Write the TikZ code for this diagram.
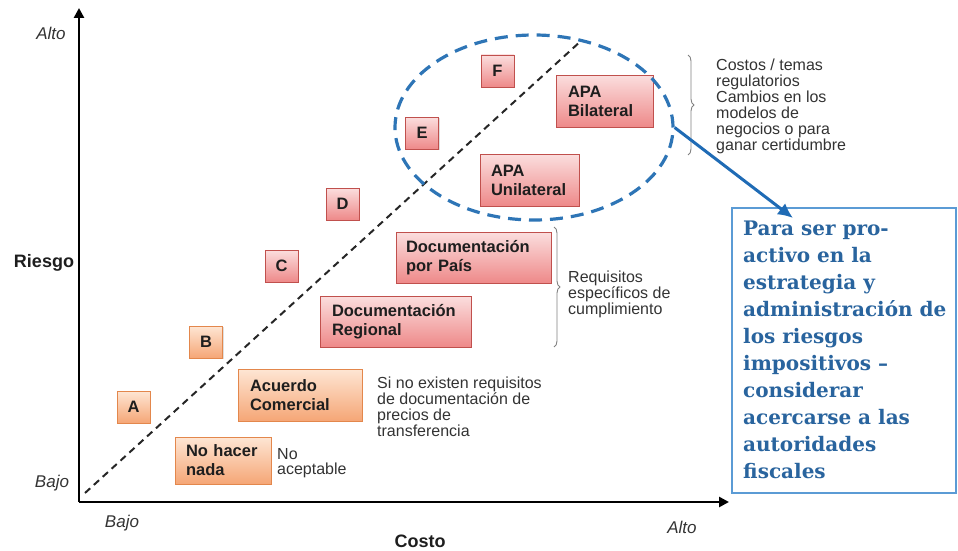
\documentclass[tikz,border=0pt]{standalone}
\usepackage{fontspec}
\setmainfont{Liberation Sans}
\newfontfamily\notefont{DejaVu Serif}
\usetikzlibrary{arrows.meta,shapes.geometric,decorations.pathreplacing,shadows}

\definecolor{redborder}{HTML}{C0504D}
\definecolor{redtop}{HTML}{FBDEDE}
\definecolor{redbot}{HTML}{EE8989}
\definecolor{orgborder}{HTML}{E3874C}
\definecolor{orgtop}{HTML}{FEE6D4}
\definecolor{orgbot}{HTML}{F5A676}
\definecolor{textdark}{HTML}{1E1E1E}
\definecolor{sidegray}{HTML}{333333}
\definecolor{ellblue}{HTML}{2E75B6}
\definecolor{arrowblue}{HTML}{1F6BB5}
\definecolor{noteborder}{HTML}{5B9BD5}
\definecolor{notetext}{HTML}{29649E}

\begin{document}
\begin{tikzpicture}[x=1pt,y=-1pt,
  boxbase/.style={line width=0.8pt, text=textdark, inner ysep=0pt,
    font=\bfseries\fontsize{16.5}{19}\selectfont,
    drop shadow={shadow xshift=1.2pt,shadow yshift=-1.2pt,opacity=0.25}},
  redbox/.style={boxbase, draw=redborder, top color=redtop, bottom color=redbot},
  orgbox/.style={boxbase, draw=orgborder, top color=orgtop, bottom color=orgbot},
  letterbox/.style={minimum width=33pt, minimum height=32pt, inner sep=0pt},
  sidetext/.style={anchor=north west, inner sep=0pt, align=left, text=sidegray},
  axislabel/.style={font=\itshape\fontsize{17}{20}\selectfont, text=sidegray, inner sep=0pt},
  axistitle/.style={font=\bfseries\fontsize{18}{21}\selectfont, text=textdark, inner sep=0pt},
  axisline/.style={line width=2.8pt, -{Triangle[length=10pt,width=10pt]}},
  diagline/.style={line width=2pt, dash pattern=on 7pt off 5pt, draw=black!85},
  bracestyle/.style={decorate, decoration={brace, amplitude=6pt}, draw=gray, line width=0.9pt},
]
\useasboundingbox (0,0) rectangle (958,551);

% axes
\coordinate (O) at (79,502);
\coordinate (ytop) at (79,8);
\coordinate (xend) at (729,502);
\draw[axisline] (O) -- (ytop);
\draw[axisline] (O) -- (xend);

\node[axislabel] (yhigh) at (51,33) {Alto};
\node[axislabel] (ylow) at (52,483) {Bajo};
\node[axislabel] (xlow) at (122,523) {Bajo};
\node[axislabel] (xhigh) at (682,527) {Alto};
\node[axistitle] (ytitle) at (44,263) {Riesgo};
\node[axistitle] (xtitle) at (420,541) {Costo};

% cost-risk diagonal
\coordinate (d0) at (85,493);
\coordinate (d1) at (582,40);
\draw[diagline] (d0) -- (d1);

% options
\node[orgbox, letterbox] (A) at (133.5,407) {A};
\node[orgbox, letterbox] (B) at (206,342) {B};
\node[redbox, letterbox] (C) at (281.5,266) {C};
\node[redbox, letterbox] (D) at (342.5,204) {D};
\node[redbox, letterbox] (E) at (422,133) {E};
\node[redbox, letterbox] (F) at (497.5,71) {F};

\node[orgbox, text width=74pt, inner xsep=11pt, minimum height=47pt, align=left]
  (nada) at (223,460.5) {No hacer\\nada};
\node[orgbox, text width=100pt, inner xsep=12pt, minimum height=52pt, align=left]
  (acuerdo) at (300,395) {Acuerdo\\Comercial};
\node[redbox, text width=127pt, inner xsep=12pt, minimum height=51pt, align=left]
  (regional) at (395.5,321.5) {Documentación\\Regional};
\node[redbox, text width=135pt, inner xsep=10pt, minimum height=51pt, align=left]
  (pais) at (473.5,257.5) {Documentación\\por País};
\node[redbox, text width=77pt, inner xsep=11pt, minimum height=52pt, align=left]
  (unilateral) at (529.5,180) {APA\\Unilateral};
\node[redbox, text width=73pt, inner xsep=12pt, minimum height=52pt, align=left]
  (bilateral) at (604.5,101) {APA\\Bilateral};

% side notes
\node[sidetext, font=\fontsize{16}{15}\selectfont] (noacept) at (277,448.5) {No\\aceptable};
\node[sidetext, font=\fontsize{16}{16}\selectfont] (sinreq) at (377,376.5)
  {Si no existen requisitos\\de documentación de\\precios de\\transferencia};
\node[sidetext, font=\fontsize{16}{14.3}\selectfont] (requis) at (568,270.5)
  {Requisitos\\específicos de\\cumplimiento};
\node[sidetext, font=\fontsize{16}{16}\selectfont] (costos) at (716,58.5)
  {Costos / temas\\regulatorios\\Cambios en los\\modelos de\\negocios o para\\ganar certidumbre};

% braces
\coordinate (b1top) at (688,55);
\coordinate (b1bot) at (688,155);
\draw[bracestyle] (b1top) -- (b1bot);
\coordinate (b2top) at (554,227);
\coordinate (b2bot) at (554,347);
\draw[bracestyle] (b2top) -- (b2bot);

% APA region
\node[ellipse, draw=ellblue, line width=3.2pt, dash pattern=on 13pt off 8pt,
  minimum width=278pt, minimum height=185pt, inner sep=0pt] (apa) at (534,127.5) {};

% recommendation
\node[draw=noteborder, line width=1.5pt, fill=white, anchor=north west,
  minimum width=224pt, minimum height=285pt, inner sep=0pt] (note) at (731,207) {};
\node[anchor=north west, inner sep=0pt, align=left, text=notetext,
  font=\notefont\bfseries\fontsize{20}{27}\selectfont] (notetxt) at (743,220.5)
  {Para ser pro-\\activo en la\\estrategia y\\administración de\\los riesgos\\impositivos –\\considerar\\acercarse a las\\autoridades\\fiscales};

\coordinate (tip) at (793,218);
\draw[arrowblue, line width=3pt, -{Latex[length=15pt,width=14pt]}] (apa.east) -- (tip);
\end{tikzpicture}
\end{document}
